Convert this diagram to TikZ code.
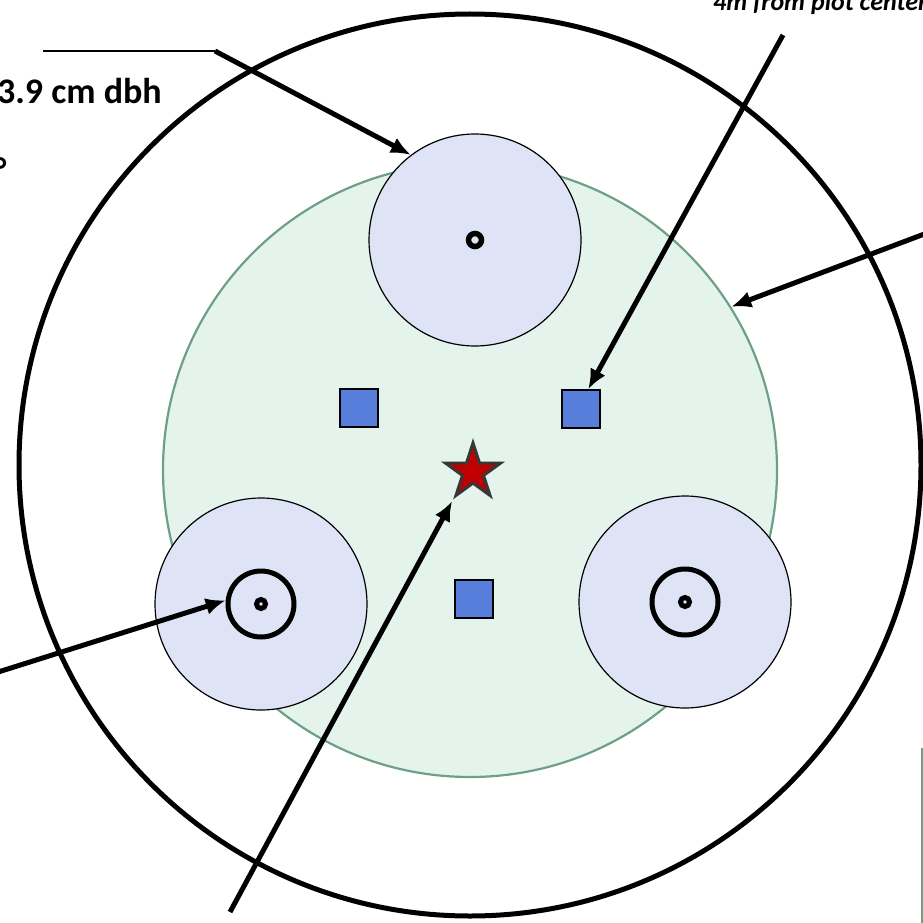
\documentclass[tikz,border=0pt]{standalone}
\usepackage{fontspec}
\setmainfont{Carlito}
\usepackage{xcolor}
\usetikzlibrary{arrows.meta, shapes.geometric}

\definecolor{plotgreen}{RGB}{228,244,236}
\definecolor{plotedge}{RGB}{110,160,135}
\definecolor{subblue}{RGB}{222,228,246}
\definecolor{quadblue}{RGB}{86,126,218}
\definecolor{starred}{RGB}{192,0,0}
\definecolor{stargray}{RGB}{55,55,55}

\begin{document}
\begin{tikzpicture}[
    x=1pt, y=-1pt,
    >=Latex,
    outerplot/.style={
        draw,
        circle,
        line width=5pt,
        minimum size=902pt,
        inner sep=0pt
    },
    mainplot/.style={
        draw=plotedge,
        fill=plotgreen,
        circle,
        line width=2.2pt,
        minimum size=614pt,
        inner sep=0pt
    },
    subplot/.style={
        draw,
        fill=subblue,
        circle,
        line width=1.2pt,
        minimum size=212pt,
        inner sep=0pt
    },
    ring/.style={
        draw,
        circle,
        line width=5pt,
        minimum size=66pt,
        inner sep=0pt
    },
    stem/.style={
        draw,
        circle,
        line width=5pt,
        minimum size=9pt,
        inner sep=0pt
    },
    quadrat/.style={
        draw,
        fill=quadblue,
        line width=1.5pt,
        minimum size=38pt,
        inner sep=0pt
    },
    centre/.style={
        star,
        star points=5,
        star point ratio=2.618,
        draw=stargray,
        fill=starred,
        line width=3pt,
        minimum size=58pt,
        inner sep=0pt
    },
    pointer/.style={
        -{Latex[length=20pt,width=17pt]},
        line width=5pt
    },
    lbl/.style={
        inner sep=0pt,
        font=\fontsize{36}{42}\selectfont\bfseries
    }
]

\useasboundingbox (0,0) rectangle (923,923);
\clip (0,0) rectangle (923,923);

% Plots
\node[outerplot] (outer) at (470,465) {};
\node[mainplot] (main) at (470,470) {};

% Subplots
\node[subplot] (subN) at (475,240) {};
\node[subplot] (subW) at (261,604) {};
\node[subplot] (subE) at (685,602) {};

% Trees
\node[stem, minimum size=13pt, line width=5.5pt] (treeN) at (475,240) {};
\node[ring] (ringW) at (261,604) {};
\node[stem] (treeW) at (261,604) {};
\node[ring] (ringE) at (685,602) {};
\node[stem] (treeE) at (685,602) {};

% Quadrats
\node[quadrat] (sqW) at (359,408) {};
\node[quadrat] (sqE) at (581,409) {};
\node[quadrat] (sqS) at (474,599) {};

% Plot centre
\node[centre] (star) at (473,472) {};

% Labels
\node[lbl, anchor=base east] (dbh) at (162,104) {3.9 cm dbh};
\node[lbl, anchor=base west] (deg) at (-6,182) {°};
\node[lbl, anchor=base west, font=\fontsize{26}{31}\selectfont\bfseries\itshape] (dist) at (713,11) {4m from plot center};

% Arrow end points
\coordinate (lblA) at (43,51);
\coordinate (bendA) at (215,51);
\coordinate (lblB) at (783,35);
\coordinate (lblC) at (935,230);
\coordinate (lblD) at (-5,673);
\coordinate (lblE) at (230,912);

% Arrows
\draw[line width=2pt] (lblA) -- (bendA);
\draw[pointer] (bendA) -- (subN.127);
\draw[pointer] (lblB) -- (sqE.70);
\draw[pointer] (lblC) -- (main.32);
\draw[pointer] (lblD) -- (ringW.174);
\draw[pointer, shorten >=2pt] (lblE) -- (star.outer point 3);

% Edge of box at right
\draw[plotedge, line width=1.5pt] (922,748) -- (922,923);

\end{tikzpicture}
\end{document}
